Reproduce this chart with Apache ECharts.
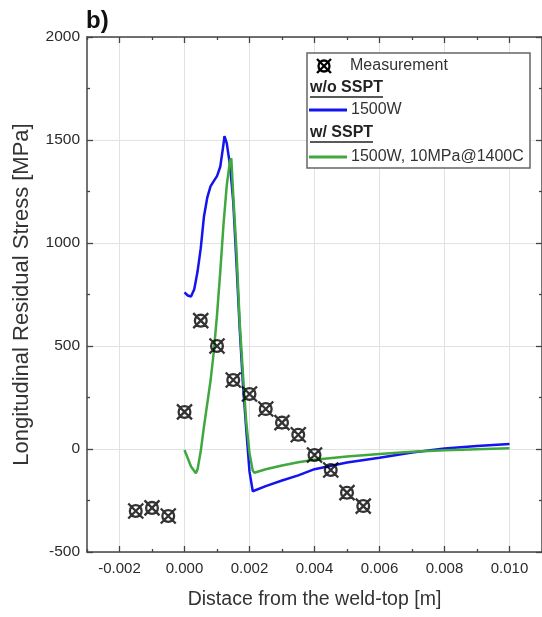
<!DOCTYPE html>
<html>
<head>
<meta charset="utf-8">
<script src="https://cdn.jsdelivr.net/npm/echarts@6/dist/echarts.min.js"></script>
<style>
html,body{margin:0;padding:0;background:#fff;}
#chart{width:542px;height:617px;}
</style>
</head>
<body>
<div id="chart"></div>
<script>
// ---- data ----
var xMajorTicks = [-0.002, 0.000, 0.002, 0.004, 0.006, 0.008, 0.010];
var yTicks = [-500, 0, 500, 1000, 1500, 2000];

var measX = [-0.0015, -0.001, -0.0005, 0.0, 0.0005, 0.001, 0.0015, 0.002, 0.0025, 0.003, 0.0035, 0.004, 0.0045, 0.005, 0.0055];
var measY = [-301, -286, -325, 180, 623, 500, 335, 267, 194, 128, 69, -29, -102, -212, -277];

var blueX = [0, 0.0001, 0.0002, 0.0003, 0.0004, 0.0005, 0.0006, 0.0007, 0.0008, 0.0009, 0.001, 0.0011, 0.0012, 0.00123, 0.0013, 0.00135, 0.0014, 0.0015, 0.0016, 0.0017, 0.0018, 0.0019, 0.002, 0.0021, 0.0025, 0.003, 0.0035, 0.004, 0.005, 0.006, 0.007, 0.008, 0.009, 0.010];
var blueY = [760, 745, 740, 775, 860, 975, 1130, 1220, 1275, 1300, 1325, 1370, 1480, 1519, 1485, 1430, 1380, 1200, 900, 580, 310, 95, -110, -205, -180, -153, -128, -98, -66, -43, -17, 2, 14, 24];

var greenX = [0, 0.0001, 0.0002, 0.00035, 0.0004, 0.0005, 0.0006, 0.0007, 0.0008, 0.0009, 0.001, 0.0011, 0.0012, 0.0013, 0.0014, 0.00144, 0.0015, 0.0016, 0.0017, 0.0018, 0.0019, 0.002, 0.0021, 0.00215, 0.0025, 0.003, 0.0035, 0.004, 0.005, 0.006, 0.007, 0.008, 0.009, 0.010];
var greenY = [-5, -45, -85, -118, -100, -10, 110, 220, 330, 470, 650, 860, 1090, 1280, 1400, 1411, 1230, 960, 610, 360, 130, -20, -105, -115, -98, -80, -64, -52, -36, -24, -13, -6, -1, 4];

function zip(a, b) { return a.map(function (v, i) { return [v, b[i]]; }); }

var markerPath = 'path://M-5.5,0A5.5,5.5,0,1,1,5.5,0A5.5,5.5,0,1,1,-5.5,0ZM-7,-7L7,7M-7,7L7,-7';

var chart = echarts.init(document.getElementById('chart'), null, {renderer: 'canvas'});
var axisColor = '#444';
var labelColor = '#2a2a2a';
var gridColor = '#e2e2e2';
var fontFam = 'Liberation Sans, Arial, sans-serif';

function minorX(pos) {
  return {
    type: 'value', position: pos, min: -0.003, max: 0.011, interval: 0.002,
    axisLine: {show: false, onZero: false}, axisLabel: {show: false}, splitLine: {show: false},
    axisTick: {show: true, inside: true, length: 3, lineStyle: {color: axisColor, width: 1.3}}
  };
}

var option = {
  animation: false,
  backgroundColor: '#fff',
  grid: {left: 87, top: 37, width: 457, height: 515, containLabel: false},
  xAxis: [
    {
      type: 'value', position: 'bottom', min: -0.003, max: 0.011,
      name: 'Distace from the weld-top [m]', nameLocation: 'middle', nameGap: 38,
      nameTextStyle: {fontSize: 19.5, color: '#333', fontFamily: fontFam},
      axisLine: {show: true, onZero: false, lineStyle: {color: axisColor, width: 1.5}},
      axisTick: {show: true, inside: true, length: 6, customValues: xMajorTicks, lineStyle: {color: axisColor, width: 1.3}},
      axisLabel: {show: true, customValues: xMajorTicks, margin: 9, fontSize: 15, color: labelColor, fontFamily: fontFam,
        formatter: function (v) { return v.toFixed(3); }},
      splitLine: {show: true, lineStyle: {color: gridColor, width: 1}}
    },
    minorX('bottom'),
    {
      type: 'value', position: 'top', min: -0.003, max: 0.011,
      axisLine: {show: true, onZero: false, lineStyle: {color: axisColor, width: 1.5}},
      axisTick: {show: true, inside: true, length: 6, customValues: xMajorTicks, lineStyle: {color: axisColor, width: 1.3}},
      axisLabel: {show: false}, splitLine: {show: false}
    },
    minorX('top')
  ],
  yAxis: [
    {
      type: 'value', position: 'left', min: -500, max: 2000, interval: 500,
      name: 'Longitudinal Residual Stress [MPa]', nameLocation: 'middle', nameGap: 54,
      nameTextStyle: {fontSize: 22, color: '#333', fontFamily: fontFam},
      axisLine: {show: true, onZero: false, lineStyle: {color: axisColor, width: 1.5}},
      axisTick: {show: true, inside: true, length: 6, lineStyle: {color: axisColor, width: 1.3}},
      minorTick: {show: true, splitNumber: 2, length: 3, lineStyle: {color: axisColor, width: 1.3}},
      axisLabel: {show: true, margin: 7, fontSize: 15.5, color: labelColor, fontFamily: fontFam,
        formatter: function (v) { return String(v); }},
      splitLine: {show: true, lineStyle: {color: gridColor, width: 1}}
    },
    {
      type: 'value', position: 'right', min: -500, max: 2000, interval: 500,
      axisLine: {show: true, onZero: false, lineStyle: {color: axisColor, width: 1.5}},
      axisTick: {show: true, inside: true, length: 6, lineStyle: {color: axisColor, width: 1.3}},
      minorTick: {show: true, splitNumber: 2, length: 3, lineStyle: {color: axisColor, width: 1.3}},
      axisLabel: {show: false}, splitLine: {show: false}
    }
  ],
  series: [
    {
      name: 'Measurement', type: 'scatter', data: zip(measX, measY),
      symbol: markerPath, symbolSize: 15, z: 5,
      itemStyle: {color: 'rgba(0,0,0,0)', borderColor: '#000', borderWidth: 2.3}
    },
    {
      name: '1500W', type: 'line', data: zip(blueX, blueY), showSymbol: false, smooth: false, z: 3,
      lineStyle: {color: '#1414ee', width: 2.5}
    },
    {
      name: '1500W, 10MPa@1400C', type: 'line', data: zip(greenX, greenY), showSymbol: false, smooth: false, z: 4,
      lineStyle: {color: '#3fa83f', width: 2.5}
    }
  ],
  graphic: [
    {type: 'text', left: 86, top: 9, style: {text: 'b)', font: 'bold 24px ' + fontFam, fill: '#111'}},
    {type: 'rect', z: 10, shape: {x: 307, y: 53, width: 223, height: 115}, style: {fill: '#fff', stroke: '#666', lineWidth: 1.5}},
    {type: 'circle', z: 12, shape: {cx: 324, cy: 66, r: 5.5}, style: {fill: 'none', stroke: '#000', lineWidth: 2.3}},
    {type: 'line', z: 12, shape: {x1: 317, y1: 59, x2: 331, y2: 73}, style: {stroke: '#000', lineWidth: 2.3}},
    {type: 'line', z: 12, shape: {x1: 317, y1: 73, x2: 331, y2: 59}, style: {stroke: '#000', lineWidth: 2.3}},
    {type: 'text', z: 12, x: 350, y: 66, style: {text: 'Measurement', font: '16px ' + fontFam, fill: '#333', verticalAlign: 'middle'}},
    {type: 'text', z: 12, x: 310, y: 88, style: {text: 'w/o SSPT', font: 'bold 16px ' + fontFam, fill: '#222', verticalAlign: 'middle'}},
    {type: 'line', z: 12, shape: {x1: 310, y1: 97, x2: 383, y2: 97}, style: {stroke: '#222', lineWidth: 1.5}},
    {type: 'line', z: 12, shape: {x1: 309, y1: 110, x2: 347, y2: 110}, style: {stroke: '#1414ee', lineWidth: 3}},
    {type: 'text', z: 12, x: 351, y: 110, style: {text: '1500W', font: '16px ' + fontFam, fill: '#333', verticalAlign: 'middle'}},
    {type: 'text', z: 12, x: 310, y: 133, style: {text: 'w/ SSPT', font: 'bold 16px ' + fontFam, fill: '#222', verticalAlign: 'middle'}},
    {type: 'line', z: 12, shape: {x1: 310, y1: 142, x2: 373, y2: 142}, style: {stroke: '#222', lineWidth: 1.5}},
    {type: 'line', z: 12, shape: {x1: 309, y1: 157, x2: 347, y2: 157}, style: {stroke: '#3fa83f', lineWidth: 3}},
    {type: 'text', z: 12, x: 351, y: 157, style: {text: '1500W, 10MPa@1400C', font: '16px ' + fontFam, fill: '#333', verticalAlign: 'middle'}}
  ]
};
chart.setOption(option);
</script>
</body>
</html>
